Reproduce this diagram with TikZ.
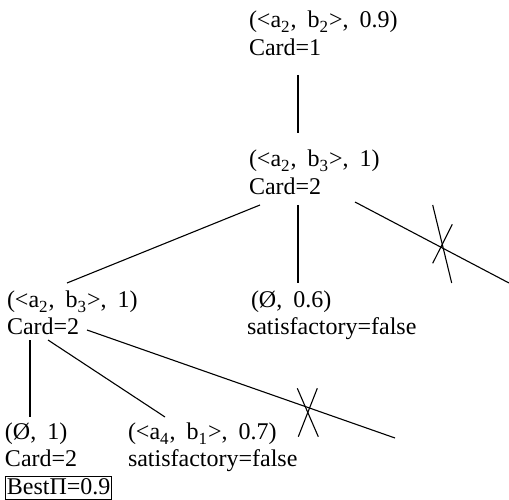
\documentclass[tikz,border=0pt]{standalone}
\usepackage{fontspec}
\setmainfont{Liberation Serif}
\usetikzlibrary{calc}
\newcommand\dn[1]{\raisebox{-5pt}{\fontsize{17}{17}\selectfont #1}\hspace{1pt}}
\newcommand\gp{\hspace{11pt}}
\newcommand\emp{Ø}
\begin{document}
\begin{tikzpicture}[x=1pt,y=-1pt,
  lbl/.style={anchor=base west,inner sep=0pt,outer sep=0pt,font=\fontsize{24}{27.5}\selectfont},
  edge/.style={line width=1.1pt},
  cut/.style={line width=1.1pt}]
\useasboundingbox (0,0) rectangle (509,500);
\node[lbl] (A) at (249,28) {\begin{tabular}[t]{@{}l@{}}(<a\dn{2},\gp b\dn{2}>,\gp 0.9)\\Card=1\end{tabular}};
\node[lbl] (B) at (249,167) {\begin{tabular}[t]{@{}l@{}}(<a\dn{2},\gp b\dn{3}>,\gp 1)\\Card=2\end{tabular}};
\node[lbl] (C) at (7,307) {\begin{tabular}[t]{@{}l@{}}(<a\dn{2},\gp b\dn{3}>,\gp 1)\\Card=2\end{tabular}};
\node[lbl] (D) at (247,307) {\begin{tabular}[t]{@{}l@{}}\hspace{4pt}(\emp,\gp 0.6)\\satisfactory=false\end{tabular}};
\node[lbl] (E) at (5,439) {\begin{tabular}[t]{@{}l@{}}(\emp,\gp 1)\\Card=2\\{\setlength\fboxsep{1pt}\setlength\fboxrule{0.9pt}\fbox{\rule[-4pt]{0pt}{0pt}BestΠ=0.9}}\end{tabular}};
\node[lbl] (F) at (128,439) {\begin{tabular}[t]{@{}l@{}}(<a\dn{4},\gp b\dn{1}>,\gp 0.7)\\satisfactory=false\end{tabular}};
\coordinate (bcut) at (509,283);
\coordinate (ccut) at (395,438);
\draw[edge] ([shift={(49,47)}]A.base west) -- ([shift={(49,-34)}]B.base west);
\draw[edge] ([shift={(11,38)}]B.base west) -- ([shift={(60,-24)}]C.base west);
\draw[edge] ([shift={(49,38)}]B.base west) -- ([shift={(51,-24)}]D.base west);
\draw[edge] ([shift={(106,35)}]B.base west) -- (bcut);
\draw[edge] ([shift={(23,33)}]C.base west) -- ([shift={(25,-22)}]E.base west);
\draw[edge] ([shift={(41,33)}]C.base west) -- ([shift={(37,-22)}]F.base west);
\draw[edge] ([shift={(80,23)}]C.base west) -- (ccut);
\draw[cut] (432.7,205) -- (451.7,283);
\draw[cut] (452.3,224.3) -- (432.7,263.3);
\draw[cut] (297.3,388.3) -- (318.3,436.7);
\draw[cut] (317.3,388.3) -- (298.3,436.7);
\end{tikzpicture}
\end{document}
